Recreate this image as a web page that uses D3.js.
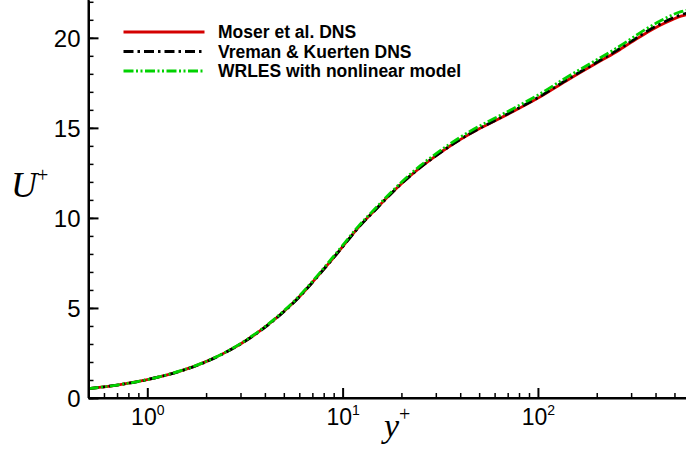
<!DOCTYPE html>
<html>
<head>
<meta charset="utf-8">
<script src="https://cdn.jsdelivr.net/npm/d3@7"></script>
<style>
  html, body { margin: 0; padding: 0; background: #fff; }
  svg { display: block; }
</style>
</head>
<body>
<svg id="chart" width="686" height="454"></svg>
<script>
// ---- data ----
const yPlus   = [0.5, 0.6, 0.7, 0.8, 1.0, 1.5, 2.0, 2.5, 3.0, 3.5, 4.0, 5.0, 6.0, 7.0, 8.0, 9.0, 10, 12, 15, 17.5, 20, 25, 30, 35, 40, 50, 60, 75, 100, 140, 200, 250, 300, 350, 420, 490, 540, 587];
const moserU  = [0.52, 0.62, 0.72, 0.82, 1.02, 1.52, 2.02, 2.52, 3.0, 3.47, 3.93, 4.8, 5.62, 6.42, 7.15, 7.8, 8.4, 9.45, 10.55, 11.3, 11.9, 12.8, 13.45, 13.95, 14.35, 14.95, 15.38, 15.92, 16.65, 17.62, 18.6, 19.2, 19.75, 20.2, 20.68, 21.02, 21.2, 21.3];
const vremanU = [0.52, 0.62, 0.72, 0.82, 1.02, 1.52, 2.01, 2.51, 2.99, 3.46, 3.92, 4.79, 5.61, 6.41, 7.14, 7.79, 8.39, 9.44, 10.54, 11.29, 11.9, 12.8, 13.45, 13.95, 14.36, 14.96, 15.4, 15.95, 16.68, 17.66, 18.64, 19.26, 19.8, 20.27, 20.75, 21.1, 21.28, 21.38];
const wrlesU  = [0.52, 0.62, 0.72, 0.82, 1.02, 1.53, 2.03, 2.53, 3.02, 3.5, 3.96, 4.84, 5.67, 6.47, 7.21, 7.87, 8.47, 9.52, 10.62, 11.37, 11.98, 12.9, 13.56, 14.07, 14.48, 15.09, 15.53, 16.08, 16.82, 17.8, 18.78, 19.4, 19.95, 20.43, 20.92, 21.28, 21.45, 21.55];
const seriesNames = ["Moser et al. DNS", "Vreman & Kuerten DNS", "WRLES with nonlinear model"];
const yMajorTicks = [0, 5, 10, 15, 20];
const yMinorTicks = d3.range(0, 23, 1);
const xMajorTicks = [1, 10, 100];
const xTickExp    = ["0", "1", "2"];
const xMinorTicks = [0.6, 0.7, 0.8, 0.9, 2, 3, 4, 5, 6, 7, 8, 9, 20, 30, 40, 50, 60, 70, 80, 90, 200, 300, 400, 500];

// ---- styles ----
const styles = [
  { color: "#d40000", dash: null },
  { color: "#000000", dash: "10,4,2.5,4" },
  { color: "#00d200", dash: "10,2.5,2,2.5,2,2.5" }
];

const svg = d3.select("#chart");
const x = d3.scaleLog().domain([0.5, 590]).range([88.5, 688.5]);
const y = d3.scaleLinear().domain([0, 22.1]).range([398, 0]);

// curves
const data = [moserU, vremanU, wrlesU];
const line = d3.line().x(d => x(d[0])).y(d => y(d[1])).curve(d3.curveMonotoneX);
data.forEach((vals, i) => {
  const pts = yPlus.map((v, j) => [v, vals[j]]);
  svg.append("path")
    .attr("d", line(pts))
    .attr("fill", "none")
    .attr("stroke", styles[i].color)
    .attr("stroke-width", 2.8)
    .attr("stroke-dasharray", styles[i].dash);
});

// y axis (ticks inward)
const gy = svg.append("g").attr("transform", "translate(88.5,0)");
gy.call(d3.axisLeft(y).tickValues(yMinorTicks).tickSizeInner(-5).tickSizeOuter(0).tickFormat(""));
gy.call(g => g.selectAll(".tick line").attr("stroke-width", 1.5));
const gy2 = svg.append("g").attr("transform", "translate(88.5,0)");
gy2.call(d3.axisLeft(y).tickValues(yMajorTicks).tickSizeInner(-10).tickSizeOuter(0).tickPadding(9));
gy2.select(".domain").remove();
gy2.selectAll(".tick line").attr("stroke-width", 2);
gy2.selectAll(".tick text")
  .attr("font-family", "Liberation Sans, Arial, sans-serif")
  .attr("font-size", 24)
  .attr("fill", "#000")
  .attr("dy", "0.36em")
  .attr("x", -8);
gy.select(".domain").attr("stroke-width", 2);
svg.append("line").attr("x1", 88.5).attr("x2", 88.5).attr("y1", y(0)).attr("y2", 0)
  .attr("stroke", "#000").attr("stroke-width", 2);

// x axis
const gx = svg.append("g").attr("transform", "translate(0,398)");
gx.call(d3.axisBottom(x).tickValues(xMinorTicks).tickSizeInner(-5).tickSizeOuter(0).tickFormat(""));
gx.selectAll(".tick line").attr("stroke-width", 1.5);
gx.select(".domain").attr("stroke-width", 2);
const gx2 = svg.append("g").attr("transform", "translate(0,398)");
gx2.call(d3.axisBottom(x).tickValues(xMajorTicks).tickSizeInner(-10).tickSizeOuter(0).tickFormat(""));
gx2.select(".domain").remove();
gx2.selectAll(".tick line").attr("stroke-width", 2);
svg.append("line").attr("x1", 88.5).attr("x2", 686).attr("y1", 398).attr("y2", 398)
  .attr("stroke", "#000").attr("stroke-width", 2);

xMajorTicks.forEach((v, i) => {
  const t = svg.append("text")
    .attr("x", x(v) + 0.5).attr("y", 425)
    .attr("text-anchor", "middle")
    .attr("font-family", "Liberation Sans, Arial, sans-serif")
    .attr("font-size", 23)
    .attr("fill", "#000");
  t.append("tspan").text("10");
  t.append("tspan").attr("font-size", 14).attr("dy", -10).text(xTickExp[i]);
});

// axis titles
const ty = svg.append("text").attr("x", 11).attr("y", 197)
  .attr("font-family", "Liberation Serif, Times New Roman, serif")
  .attr("font-style", "italic").attr("font-size", 36).attr("fill", "#000");
ty.append("tspan").text("U");
ty.append("tspan").attr("font-style", "normal").attr("font-size", 20).attr("dy", -15).text("+");

const tx = svg.append("text").attr("x", 384).attr("y", 437)
  .attr("font-family", "Liberation Serif, Times New Roman, serif")
  .attr("font-style", "italic").attr("font-size", 34).attr("fill", "#000");
tx.append("tspan").text("y");
tx.append("tspan").attr("font-style", "normal").attr("font-size", 20).attr("dy", -16).text("+");

// legend
const legY = [32, 51.5, 71];
seriesNames.forEach((name, i) => {
  svg.append("line")
    .attr("x1", 123.5).attr("x2", 204.5).attr("y1", legY[i]).attr("y2", legY[i])
    .attr("stroke", styles[i].color).attr("stroke-width", 2.8)
    .attr("stroke-dasharray", styles[i].dash);
  svg.append("text")
    .attr("x", 218).attr("y", legY[i] + 6.3)
    .attr("font-family", "Liberation Sans, Arial, sans-serif")
    .attr("font-weight", "bold").attr("font-size", 17.5).attr("fill", "#000")
    .text(name);
});
</script>
</body>
</html>
